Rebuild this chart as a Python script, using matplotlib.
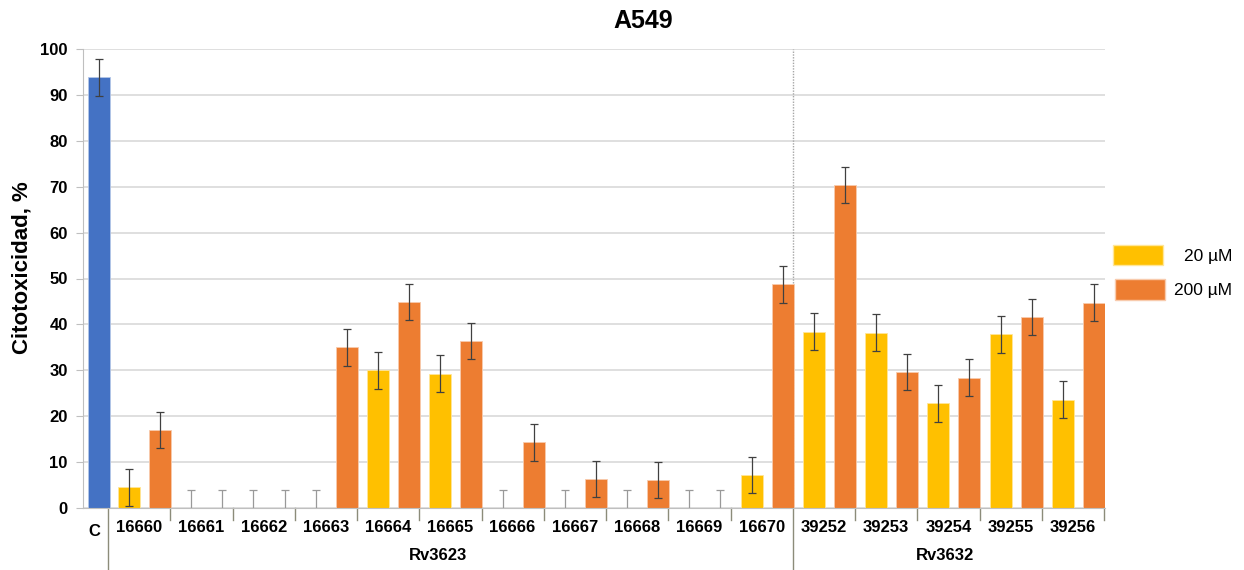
import matplotlib
matplotlib.use("Agg")
import matplotlib.pyplot as plt
import matplotlib.transforms as mtransforms
from matplotlib.patches import Rectangle
import numpy as np

plt.rcParams['font.family'] = ['Liberation Sans', 'DejaVu Sans']

# data
control_label = 'C'
control_val = 93.8
control_err = 4.0
groups = ['16660', '16661', '16662', '16663', '16664', '16665', '16666', '16667',
          '16668', '16669', '16670', '39252', '39253', '39254', '39255', '39256']
val20 = [4.5, 0, 0, 0, 30.0, 29.3, 0, 0, 0, 0, 7.2, 38.4, 38.2, 22.8, 37.8, 23.6]
val200 = [17.0, 0, 0, 35.0, 44.9, 36.4, 14.3, 6.3, 6.1, 0, 48.7, 70.4, 29.6, 28.4, 41.6, 44.7]
err20 = [4.0] * 16
err200 = [4.0] * 16
proteins = ['Rv3623', 'Rv3632']
protein_split = 11  # first group index of Rv3632

blue = '#4472C4'
yellow = '#FFC000'
orange = '#ED7D31'

W, H = 1244, 570
fig = plt.figure(figsize=(W / 100, H / 100), dpi=100)
ax = fig.add_axes([83 / W, 1 - 508 / H, (1105 - 83) / W, 459 / H])

gw = 62.25  # group width in px, used to turn offsets into group units
x = np.arange(len(groups))
bw = 22 / gw
off20 = 21 / gw
off200 = 52 / gw
xc = -9 / gw

ax.bar(xc, control_val, bw, color=blue, edgecolor='#b4c7e7', linewidth=0.6, zorder=2)
ax.bar(x + off20, val20, bw, color=yellow, edgecolor='#ffe699', linewidth=0.6, zorder=2)
ax.bar(x + off200, val200, bw, color=orange, edgecolor='#f8cbad', linewidth=0.6, zorder=2)

def draw_err(xs, vals, errs):
    for xi, v, e in zip(xs, vals, errs):
        col = '#404040' if v > 0 else '#999999'
        ax.errorbar(xi, v, yerr=e, fmt='none', ecolor=col, elinewidth=0.9,
                    capsize=3, capthick=0.9, zorder=3)

draw_err([xc], [control_val], [control_err])
draw_err(x + off20, val20, err20)
draw_err(x + off200, val200, err200)

ax.set_xlim(-25 / gw, 16 + 1 / gw)
ax.set_ylim(0, 100)
ax.set_yticks(np.arange(0, 101, 10))
ax.tick_params(axis='y', length=5, color='#bfbfbf', labelsize=12, pad=6)
for t in ax.get_yticklabels():
    t.set_fontweight('bold')
ax.set_xticks([])
ax.grid(axis='y', color='#d9d9d9', linewidth=1.2, zorder=0)
ax.set_axisbelow(True)
for s in ['top', 'right']:
    ax.spines[s].set_visible(False)
ax.spines['left'].set_color('#bfbfbf')
ax.spines['bottom'].set_color('#bfbfbf')

trans = mtransforms.blended_transform_factory(ax.transData, ax.transAxes)
bottom = -62 / 459

# dotted separator inside the plot and long lines below the axis
ax.plot([protein_split, protein_split], [0, 1], transform=trans, color='#a6a6a6',
        linestyle=(0, (1, 1)), linewidth=1, zorder=1)
for b in [0, protein_split]:
    ax.plot([b, b], [0, bottom], transform=trans, color='#8c8c7a', linewidth=1,
            clip_on=False)
for b in range(1, len(groups) + 1):
    if b == protein_split:
        continue
    ax.plot([b, b], [0, -12 / 459], transform=trans, color='#8c8c7a', linewidth=1,
            clip_on=False)

# category labels
ty = -20 / 459
ax.text(-14 / gw, -23 / 459, control_label, transform=trans, ha='center', va='center',
        fontsize=12, fontweight='bold')
for i, g in enumerate(groups):
    ax.text(i + 0.5, ty, g, transform=trans, ha='center', va='center',
            fontsize=12, fontweight='bold')
ax.text(5.3, -47 / 459, proteins[0], transform=trans, ha='center', va='center',
        fontsize=12, fontweight='bold')
ax.text(13.45, -47 / 459, proteins[1], transform=trans, ha='center', va='center',
        fontsize=12, fontweight='bold')

ax.set_ylabel('Citotoxicidad, %', fontsize=16, fontweight='bold')
ax.yaxis.set_label_coords((33 - 83) / (1105 - 83), (508 - 268) / 459)

fig.text(643 / W, 1 - 21 / H, 'A549', ha='center', va='center', fontsize=18,
         fontweight='bold')

# legend
fig.add_artist(Rectangle((1113 / W, 1 - 265 / H), 50 / W, 20 / H,
                         transform=fig.transFigure, facecolor=yellow, edgecolor='#ffe699'))
fig.add_artist(Rectangle((1115 / W, 1 - 300 / H), 50 / W, 21 / H,
                         transform=fig.transFigure, facecolor=orange, edgecolor='#f8cbad'))
fig.text(1232 / W, 1 - 256 / H, '20 µM', ha='right', va='center', fontsize=12.5)
fig.text(1232 / W, 1 - 290 / H, '200 µM', ha='right', va='center', fontsize=12.5)

fig.savefig('out.png', dpi=100)
